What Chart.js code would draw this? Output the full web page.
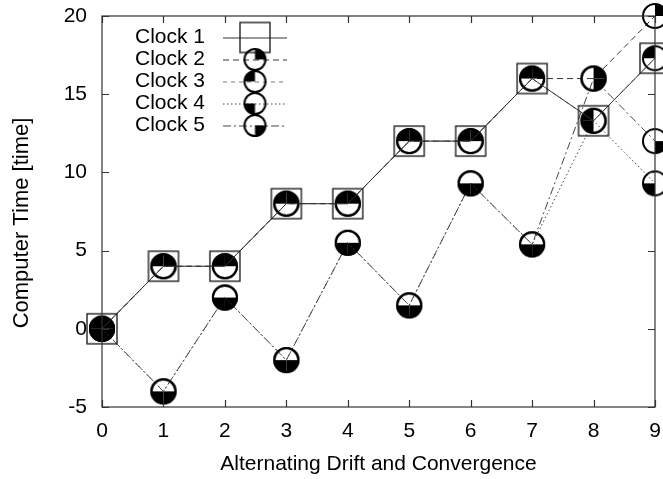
<!DOCTYPE html>
<html>
<head>
<meta charset="utf-8">
<script src="https://cdn.jsdelivr.net/npm/chart.js@4.4.1/dist/chart.umd.min.js"></script>
<style>
  html, body { margin: 0; padding: 0; background: #fff; overflow: hidden; }
  canvas { display: block; }
</style>
</head>
<body>
<canvas id="clockChart" width="663" height="479"></canvas>
<script>
// steps along the x axis
const steps = [0, 1, 2, 3, 4, 5, 6, 7, 8, 9];
const clockNames = ['Clock 1', 'Clock 2', 'Clock 3', 'Clock 4', 'Clock 5'];

// computer time per clock
const clock1 = [0, 4, 4, 8, 8, 12, 12, 16, 13.3, 17.3];
const clock2 = [0, 4, 4, 8, 8, 12, 12, 16, 16, 20];
const clock3 = [0, 4, 4, 8, 8, 12, 12, 16, 13.3, 17.3];
const clock4 = [0, -4, 2, -2, 5.5, 1.5, 9.3, 5.4, 13.3, 9.3];
const clock5 = [0, -4, 2, -2, 5.5, 1.5, 9.3, 5.4, 16, 12];

const xTicks = [0, 1, 2, 3, 4, 5, 6, 7, 8, 9];
const yTicks = [-5, 0, 5, 10, 15, 20];

const FONT = '"Liberation Sans", Arial, sans-serif';

// marker pictures
function squareMarker(side) {
    let c = document.createElement('canvas');
    c.width = side + 4;
    c.height = side + 4;
    let g = c.getContext('2d');
    g.strokeStyle = '#222';
    g.lineWidth = 1.4;
    g.strokeRect(2, 2, side, side);
    return c;
}

// start: angle where the filled quarter begins
function quarterMarker(start, r) {
    let size = Math.ceil(r * 2 + 4);
    let c = document.createElement('canvas');
    c.width = size;
    c.height = size;
    let g = c.getContext('2d');
    let m = size / 2;
    g.fillStyle = '#000';
    g.beginPath();
    g.moveTo(m, m);
    g.arc(m, m, r, start, start + Math.PI / 2);
    g.closePath();
    g.fill();
    g.strokeStyle = '#000';
    g.lineWidth = 2;
    g.beginPath();
    g.arc(m, m, r, 0, Math.PI * 2);
    g.stroke();
    return c;
}

const R = 12;
const markers = [
    squareMarker(30),
    quarterMarker(-Math.PI / 2, R),   // top right
    quarterMarker(Math.PI, R),        // top left
    quarterMarker(Math.PI / 2, R),    // bottom left
    quarterMarker(0, R)               // bottom right
];
const legendMarkers = [
    squareMarker(30),
    quarterMarker(-Math.PI / 2, 10.5),
    quarterMarker(Math.PI, 10.5),
    quarterMarker(Math.PI / 2, 10.5),
    quarterMarker(0, 10.5)
];
const dashes = [[], [6, 4], [4, 4], [1.5, 2.5], [8, 3, 2, 3]];
const lineColors = ['#333', '#333', '#777', '#444', '#444'];

const series = [clock1, clock2, clock3, clock4, clock5];
let datasets = series.map(function (vals, i) {
    return {
        label: clockNames[i],
        data: steps.map((s, k) => ({ x: s, y: vals[k] })),
        borderColor: lineColors[i],
        borderWidth: 1,
        borderDash: dashes[i],
        pointStyle: markers[i],
        pointRadius: 12,
        tension: 0,
        clip: false,
        fill: false
    };
});

function noPadding(s) {
    s.paddingLeft = 0;
    s.paddingRight = 0;
    s.paddingTop = 0;
    s.paddingBottom = 0;
}

// frame, inward ticks, legend and y title
const gnuplotLook = {
    id: 'gnuplotLook',
    afterDraw(chart) {
        const ctx = chart.ctx;
        const a = chart.chartArea;
        const xs = chart.scales.x, ys = chart.scales.y;
        ctx.save();
        ctx.strokeStyle = '#333';
        ctx.lineWidth = 1.2;
        ctx.strokeRect(a.left, a.top, a.right - a.left, a.bottom - a.top);
        ctx.beginPath();
        xTicks.forEach(function (t) {
            let px = Math.round(xs.getPixelForValue(t)) + 0.5;
            ctx.moveTo(px, a.bottom); ctx.lineTo(px, a.bottom - 7);
            ctx.moveTo(px, a.top); ctx.lineTo(px, a.top + 7);
        });
        yTicks.forEach(function (t) {
            let py = Math.round(ys.getPixelForValue(t)) + 0.5;
            ctx.moveTo(a.left, py); ctx.lineTo(a.left + 7, py);
            ctx.moveTo(a.right, py); ctx.lineTo(a.right - 7, py);
        });
        ctx.stroke();

        // legend
        ctx.font = '21px ' + FONT;
        ctx.fillStyle = '#000';
        ctx.textBaseline = 'middle';
        ctx.textAlign = 'left';
        clockNames.forEach(function (name, i) {
            let y = 37.5 + i * 22;
            ctx.fillText(name, 135, y);
            ctx.save();
            ctx.strokeStyle = lineColors[i];
            ctx.lineWidth = 1;
            ctx.setLineDash(dashes[i]);
            ctx.beginPath();
            ctx.moveTo(223, y + 0.5);
            ctx.lineTo(287, y + 0.5);
            ctx.stroke();
            ctx.restore();
            let m = legendMarkers[i];
            ctx.drawImage(m, 255 - m.width / 2, y - m.height / 2);
        });

        // y axis title
        ctx.translate(22, 223);
        ctx.rotate(-Math.PI / 2);
        ctx.textAlign = 'center';
        ctx.font = '22px ' + FONT;
        ctx.fillText('Computer Time [time]', 0, 0);
        ctx.restore();
    }
};

let ctx = document.getElementById('clockChart').getContext('2d');

let clockChart = new Chart(ctx, {
    type: 'line',
    data: { datasets: datasets },
    options: {
        responsive: false,
        animation: false,
        events: [],
        layout: { autoPadding: false, padding: { top: 16, right: 8, left: 0, bottom: 0 } },
        plugins: {
            legend: { display: false },
            tooltip: { enabled: false }
        },
        scales: {
            x: {
                type: 'linear',
                min: 0,
                max: 9,
                afterFit: function (s) {
                    s.height = 72;
                    noPadding(s);
                },
                afterBuildTicks: function (s) { s.ticks = xTicks.map(v => ({ value: v })); },
                grid: { display: false, drawTicks: false },
                border: { display: false },
                ticks: { color: '#000', padding: 12, maxRotation: 0, font: { family: FONT, size: 21 } },
                title: {
                    display: true,
                    text: 'Alternating Drift and Convergence',
                    color: '#000',
                    font: { family: FONT, size: 21 },
                    padding: { top: 0, bottom: 2 }
                }
            },
            y: {
                min: -5,
                max: 20,
                afterFit: function (s) {
                    s.width = 102;
                    noPadding(s);
                },
                afterBuildTicks: function (s) { s.ticks = yTicks.map(v => ({ value: v })); },
                grid: { display: false, drawTicks: false },
                border: { display: false },
                ticks: { color: '#000', padding: 15, font: { family: FONT, size: 21 } }
            }
        }
    },
    plugins: [gnuplotLook]
});
</script>
</body>
</html>
